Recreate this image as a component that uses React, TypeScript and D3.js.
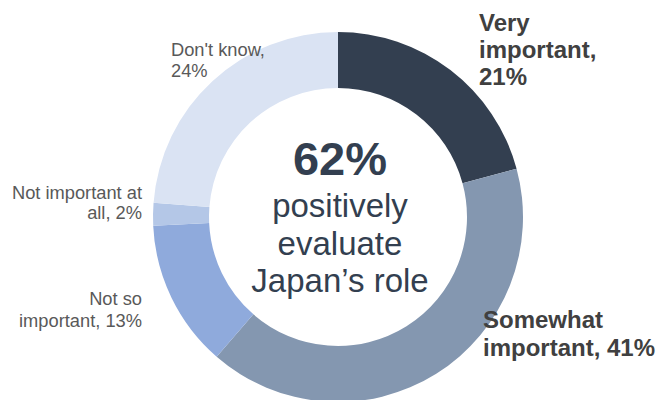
import React from 'react';
import * as d3 from 'd3';

// Survey answers, clockwise from 12 o'clock
const categories = ['Very important', 'Somewhat important', 'Not so important', 'Not important at all', "Don't know"];
const shares = [21, 41, 13, 2, 24];
const sliceColors = ['#333f50', '#8497b0', '#8faadc', '#b4c7e7', '#dae3f3'];
const labelLines = [
  ['Very', 'important,', '21%'],
  ['Somewhat', 'important, 41%'],
  ['Not so', 'important, 13%'],
  ['Not important at', 'all, 2%'],
  ["Don't know,", '24%'],
];
const centerLines = ['62%', 'positively', 'evaluate', 'Japan\u2019s role'];

const width = 661;
const height = 400;

const App = () => {
  const cx = 338;
  const cy = 217;
  const outerR = 185;
  const innerR = 129;

  const pie = d3
    .pie<number>()
    .sort(null)
    .value((d) => d);
  const arcs = pie(shares);
  const arc = d3.arc<d3.PieArcDatum<number>>().innerRadius(innerR).outerRadius(outerR);

  // label placement: x, first baseline, line step, anchor, bold
  const labelLayout = [
    { x: 479, y: 31, step: 27, anchor: 'start', bold: true },
    { x: 483, y: 328, step: 28, anchor: 'start', bold: true },
    { x: 142, y: 305, step: 22, anchor: 'end', bold: false },
    { x: 142, y: 199, step: 20, anchor: 'end', bold: false },
    { x: 171, y: 56, step: 21, anchor: 'start', bold: false },
  ];

  return (
    <svg
      width={width}
      height={height}
      style={{ position: 'absolute', left: 0, top: 0, display: 'block' }}
      fontFamily="'Liberation Sans', Arial, sans-serif"
    >
      <rect width={width} height={height} fill="#ffffff" />
      <g transform={`translate(${cx},${cy})`}>
        {arcs.map((a, i) => (
          <path key={categories[i]} d={arc(a) || ''} fill={sliceColors[i]} />
        ))}
      </g>

      {labelLines.map((lines, i) => {
        const l = labelLayout[i];
        return (
          <text
            key={categories[i]}
            x={l.x}
            y={l.y}
            textAnchor={l.anchor}
            fontSize={l.bold ? 24 : 18.3}
            fontWeight={l.bold ? 'bold' : 'normal'}
            fill={l.bold ? '#404040' : '#595959'}
          >
            {lines.map((t, j) => (
              <tspan key={j} x={l.x} dy={j === 0 ? 0 : l.step}>
                {t}
              </tspan>
            ))}
          </text>
        );
      })}

      <g fill="#333f50" textAnchor="middle">
        <text x={cx + 2} y={175} fontSize={47} fontWeight="bold">
          {centerLines[0]}
        </text>
        {centerLines.slice(1).map((t, j) => (
          <text key={t} x={cx + 2} y={217 + j * 37.5} fontSize={33}>
            {t}
          </text>
        ))}
      </g>
    </svg>
  );
};

export default App;
